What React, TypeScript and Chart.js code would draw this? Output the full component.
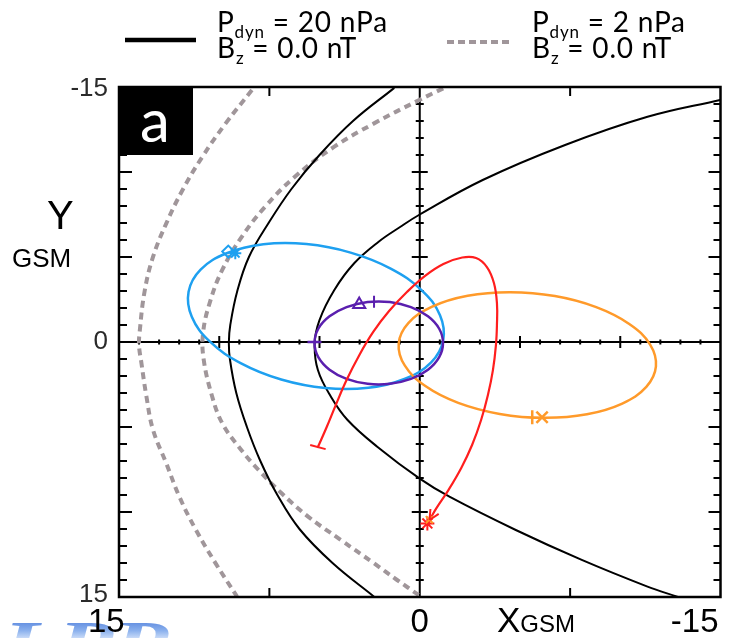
import React, { useEffect, useRef } from "react";
import { Chart, registerables } from "chart.js";

Chart.register(...registerables);

const W = 731;
const H = 638;

// Axis range (Earth radii), both axes run from -15 to 15
const axisMin = -15;
const axisMax = 15;
const xTickValues = [15, 0, -15];
const xTickLabels = ["15", "0", "-15"];
const yTickValues = [-15, 0, 15];
const yTickLabels = ["-15", "0", "15"];
const frameTicks = [7.5, -7.5];

// Legend entries
const legendPdyn = ["20", "2"];
const legendBz = ["0.0", "0.0"];

// Boundaries for Pdyn = 20 nPa (solid black) — [X, Y] in Re
const shock20: number[][] = [
  [1.3, -14.92], [3.33, -13.0], [5.0, -11.0], [6.4, -9.0], [7.54, -7.0],
  [8.52, -5.0], [9.1, -3.0], [9.45, -1.0], [9.52, 0.0], [9.47, 1.0],
  [9.15, 3.0], [8.62, 5.0], [7.95, 7.0], [7.1, 9.0], [6.0, 11.0],
  [4.35, 13.0], [2.28, 14.98],
];
const pause20: number[][] = [
  [-14.98, -14.24], [-11.36, -13.25], [-7.25, -11.59], [-3.14, -9.53], [0.0, -7.5],
  [1.0, -6.75], [2.05, -5.9], [3.27, -4.63], [4.26, -3.06], [5.0, -1.29],
  [5.24, 0.08], [5.08, 1.65], [4.43, 3.22], [3.6, 4.59], [2.12, 6.16],
  [0.0, 8.04], [-1.48, 9.1], [-4.79, 11.06], [-8.08, 12.82], [-11.36, 14.39],
  [-12.84, 14.98],
];

// Boundaries for Pdyn = 2 nPa (dashed grey)
const shock2: number[][] = [
  [8.37, -14.82], [9.68, -12.86], [10.84, -10.9], [11.83, -8.94], [12.64, -6.98],
  [13.3, -5.02], [13.72, -3.0], [13.96, -0.71], [14.0, 0.2], [13.88, 1.25],
  [13.63, 3.22], [13.3, 5.18], [12.64, 7.14], [11.99, 9.1], [11.16, 11.06],
  [10.18, 13.02], [9.11, 14.98],
];
const pause2: number[][] = [
  [-1.17, -14.92], [0.0, -14.25], [2.28, -12.86], [4.26, -11.49], [6.23, -9.72],
  [7.71, -7.96], [8.87, -6.2], [9.85, -4.24], [10.45, -2.4], [10.8, -0.6],
  [10.78, 1.0], [10.35, 3.22], [9.85, 4.78], [9.03, 6.16], [8.04, 7.53],
  [6.89, 8.9], [5.57, 10.27], [3.93, 11.65], [2.28, 13.02], [1.13, 14.0],
  [0.06, 14.88],
];

// Spacecraft orbits
const orbitBlue: number[][] = [
  [-1.17, -0.1], [-0.57, 1.2], [0.73, 2.16], [2.56, 2.69], [4.71, 2.71],
  [6.91, 2.21], [8.91, 1.26], [10.46, -0.02], [11.37, -1.49], [11.53, -2.96],
  [10.93, -4.26], [9.63, -5.22], [7.8, -5.75], [5.65, -5.76], [3.45, -5.26],
  [1.45, -4.32], [-0.1, -3.04], [-1.01, -1.57],
];
const orbitPurple: number[][] = [
  [-1.16, 0.06], [-0.97, 0.89], [-0.41, 1.63], [0.44, 2.17], [1.49, 2.46],
  [2.6, 2.46], [3.65, 2.17], [4.5, 1.63], [5.06, 0.89], [5.25, 0.06],
  [5.06, -0.78], [4.5, -1.51], [3.65, -2.05], [2.6, -2.35], [1.49, -2.35],
  [0.44, -2.05], [-0.41, -1.51], [-0.97, -0.78],
];
const orbitOrange: number[][] = [
  [-11.78, 1.44], [-11.3, 2.64], [-10.1, 3.62], [-8.34, 4.25], [-6.22, 4.46],
  [-3.99, 4.23], [-1.92, 3.58], [-0.28, 2.59], [0.75, 1.38], [1.05, 0.09],
  [0.57, -1.11], [-0.62, -2.08], [-2.39, -2.72], [-4.51, -2.93], [-6.74, -2.7],
  [-8.8, -2.05], [-10.45, -1.06], [-11.49, 0.15],
];
const orbitRed: number[][] = [
  [5.08, 6.18], [4.64, 5.0], [4.19, 3.71], [3.65, 2.24], [3.01, 0.76],
  [2.32, -0.59], [1.53, -1.82], [0.64, -2.94], [-0.25, -3.88], [-1.18, -4.59],
  [-2.12, -4.97], [-2.81, -4.94], [-3.35, -4.41], [-3.7, -3.47], [-3.85, -2.29],
  [-3.85, -1.0], [-3.8, 0.18], [-3.65, 1.65], [-3.4, 3.12], [-3.06, 4.59],
  [-2.61, 6.06], [-2.07, 7.41], [-1.43, 8.71], [-0.84, 9.76], [-0.49, 10.47],
];

// Position markers along the orbits
const blueDiamond: number[][] = [[9.55, -5.32]];
const blueStar: number[][] = [[9.2, -5.22]];
const purpleTriangle: number[][] = [[3.02, -2.2]];
const purpleBar: number[][] = [[2.28, -2.37]];
const purpleDash: number[][] = [[5.25, 0.0]];
const orangeBar: number[][] = [[-5.61, 4.43]];
const orangeCross: number[][] = [[-6.1, 4.43]];
const orangeSmall: number[][] = [[-0.48, 10.45]];
const redStar: number[][] = [[-0.38, 10.67]];
const redBar: number[][] = [[5.08, 6.18]];

const BLUE = "#1ea0f0";
const PURPLE = "#5a1fae";
const ORANGE = "#ff9a2a";
const RED = "#ff1e1e";
const GREY = "#a0969a";

const toPts = (a: number[][]) => a.map(([x, y]) => ({ x, y }));

const SANS = "'Liberation Sans', Arial, sans-serif";
const LEG = "Lato, 'Open Sans', sans-serif";

function curve(data: any[], color: string, width: number, order: number, dash: number[] = []) {
  return {
    data,
    showLine: true,
    borderColor: color,
    borderWidth: width,
    borderDash: dash,
    borderCapStyle: dash.length ? "butt" : "round",
    borderJoinStyle: "round",
    pointRadius: 0,
    tension: 0.4,
    fill: false,
    order,
  };
}

// A closed orbit: the loop is padded by one point on each side so every
// drawn piece has neighbours for the spline; the two padding pieces are hidden.
function loop(a: number[][], color: string, width: number, order: number) {
  const data = toPts([a[a.length - 1], ...a, a[0], a[1]]);
  const last = data.length - 2;
  return {
    ...curve(data, color, width, order),
    segment: {
      borderColor: (c: any) => (c.p0DataIndex === 0 || c.p0DataIndex === last ? "rgba(0,0,0,0)" : undefined),
    },
  };
}

function marker(data: number[][], style: string, color: string, radius: number, rotation = 0, width = 2) {
  return {
    data: toPts(data),
    showLine: false,
    pointStyle: style,
    pointRadius: radius,
    pointRotation: rotation,
    pointBorderColor: color,
    pointBackgroundColor: "rgba(0,0,0,0)",
    pointBorderWidth: width,
    order: 0,
  };
}

function subText(ctx: CanvasRenderingContext2D, x: number, y: number, parts: [string, boolean][], size: number, font: string) {
  let cx = x;
  for (const [t, sub] of parts) {
    ctx.font = `${sub ? Math.round(size * 0.62) : size}px ${font}`;
    ctx.fillText(t, cx, sub ? y + size * 0.2 : y);
    cx += ctx.measureText(t).width;
  }
}

const framePlugin = {
  id: "gsmFrame",
  beforeDatasetsDraw(chart: any) {
    const { ctx, chartArea: a, scales } = chart;
    const xs = scales.x;
    const ys = scales.y;
    const x0 = xs.getPixelForValue(0);
    const y0 = ys.getPixelForValue(0);
    ctx.save();
    ctx.strokeStyle = "#000";
    ctx.lineWidth = 2;
    ctx.beginPath();
    ctx.moveTo(a.left, y0);
    ctx.lineTo(a.right, y0);
    ctx.moveTo(x0, a.top);
    ctx.lineTo(x0, a.bottom);
    for (let v = axisMin + 1; v < axisMax; v++) {
      if (v === 0) continue;
      const major = v % 5 === 0;
      const px = xs.getPixelForValue(v);
      const h = major ? 6 : 2.5;
      ctx.moveTo(px, y0 - h);
      ctx.lineTo(px, y0 + h);
      const py = ys.getPixelForValue(v);
      const w = major ? 8 : 4;
      ctx.moveTo(x0 - w, py);
      ctx.lineTo(x0 + w, py);
      // inward ticks on left and right frame
      ctx.moveTo(a.left, py);
      ctx.lineTo(a.left + (major ? 13 : 8), py);
      ctx.moveTo(a.right, py);
      ctx.lineTo(a.right - (major ? 12 : 7), py);
    }
    for (const v of frameTicks) {
      const px = xs.getPixelForValue(v);
      ctx.moveTo(px, a.top);
      ctx.lineTo(px, a.top + 9);
      ctx.moveTo(px, a.bottom);
      ctx.lineTo(px, a.bottom - 9);
    }
    ctx.stroke();
    ctx.restore();
  },
  afterDatasetsDraw(chart: any) {
    const { ctx, chartArea: a } = chart;
    ctx.save();
    // arrow head at the end of the red track
    const redIdx = chart.data.datasets.findIndex((d: any) => d.label === "red");
    const pts = chart.getDatasetMeta(redIdx).data;
    const tip = pts[pts.length - 1];
    const prev = pts[pts.length - 2];
    const ang = Math.atan2(tip.y - prev.y, tip.x - prev.x);
    ctx.strokeStyle = RED;
    ctx.lineWidth = 2;
    ctx.beginPath();
    for (const s of [-1, 1]) {
      ctx.moveTo(tip.x, tip.y);
      ctx.lineTo(tip.x - 11 * Math.cos(ang + s * 0.45), tip.y - 11 * Math.sin(ang + s * 0.45));
    }
    ctx.stroke();

    // frame
    ctx.strokeStyle = "#000";
    ctx.lineWidth = 2.5;
    ctx.strokeRect(a.left, a.top, a.right - a.left, a.bottom - a.top);

    // panel label
    ctx.fillStyle = "#000";
    ctx.fillRect(a.left, a.top, 74, 68);
    ctx.fillStyle = "#fff";
    ctx.font = `60px ${LEG}`;
    ctx.textAlign = "center";
    ctx.textBaseline = "alphabetic";
    ctx.fillText("a", a.left + 36, a.top + 55);
    ctx.restore();
  },
  afterDraw(chart: any) {
    const { ctx, scales } = chart;
    const xs = scales.x;
    const ys = scales.y;
    ctx.save();
    ctx.fillStyle = "#000";

    // legend
    ctx.lineWidth = 4.5;
    ctx.strokeStyle = "#000";
    ctx.beginPath();
    ctx.moveTo(125, 40);
    ctx.lineTo(196, 40);
    ctx.stroke();
    ctx.strokeStyle = GREY;
    ctx.lineWidth = 4;
    ctx.setLineDash([7, 4]);
    ctx.beginPath();
    ctx.moveTo(447, 42);
    ctx.lineTo(513, 42);
    ctx.stroke();
    ctx.setLineDash([]);
    ctx.textAlign = "left";
    ctx.textBaseline = "alphabetic";
    (ctx as any).letterSpacing = "0.8px";
    const legX = [217, 532];
    legendPdyn.forEach((p, i) => {
      subText(ctx, legX[i], 32, [["P", false], ["dyn", true], [` = ${p} nPa`, false]], 28, LEG);
      subText(ctx, legX[i], 58, [["B", false], ["z", true], [` = ${legendBz[i]} nT`, false]], 28, LEG);
    });
    (ctx as any).letterSpacing = "0px";

    // y tick labels
    ctx.fillStyle = "#2a2a2a";
    ctx.font = `26px ${SANS}`;
    ctx.textAlign = "right";
    ctx.textBaseline = "middle";
    yTickValues.forEach((v, i) => {
      let py = ys.getPixelForValue(v);
      if (v === axisMin) py += 2;
      if (v === axisMax) py -= 2;
      ctx.fillText(yTickLabels[i], 108, py);
    });

    // y title
    ctx.fillStyle = "#000";
    ctx.textAlign = "left";
    ctx.textBaseline = "alphabetic";
    ctx.font = `40px ${SANS}`;
    ctx.fillText("Y", 47, 229);
    ctx.font = `26px ${SANS}`;
    ctx.fillText("GSM", 12, 267);

    // x tick labels
    ctx.font = `33px ${SANS}`;
    xTickValues.forEach((v, i) => {
      const px = xs.getPixelForValue(v);
      if (v === axisMax) {
        ctx.textAlign = "left";
        ctx.fillText(xTickLabels[i], px - 31, 632);
      } else if (v === axisMin) {
        ctx.textAlign = "right";
        ctx.fillText(xTickLabels[i], px - 2, 632);
      } else {
        ctx.textAlign = "center";
        ctx.fillText(xTickLabels[i], px, 632);
      }
    });
    ctx.textAlign = "left";
    ctx.font = `35px ${SANS}`;
    ctx.fillText("X", 497, 632);
    const xw = ctx.measureText("X").width;
    ctx.font = `24px ${SANS}`;
    ctx.fillText("GSM", 497 + xw, 632);

    // lab logo in the lower left corner, partly cut by the page edge
    ctx.save();
    ctx.globalCompositeOperation = "destination-over";
    ctx.scale(1.5, 1);
    const g = ctx.createLinearGradient(0, 615, 0, 660);
    g.addColorStop(0, "#2d63d2");
    g.addColorStop(0.35, "#7fa9ec");
    g.addColorStop(0.6, "#e8f0fd");
    g.addColorStop(1, "#a9c4f2");
    ctx.globalAlpha = 0.9;
    ctx.fillStyle = g;
    ctx.font = `italic bold 60px 'Liberation Serif', serif`;
    ctx.fillText("LPP", 2, 662);
    ctx.restore();
    ctx.restore();
  },
};

export default function App() {
  const ref = useRef<HTMLCanvasElement | null>(null);

  useEffect(() => {
    if (!ref.current) return;
    const datasets: any[] = [
      curve(toPts(shock2), GREY, 4, 10, [7, 5]),
      curve(toPts(pause2), GREY, 4, 10, [7, 5]),
      curve(toPts(shock20), "#000", 2, 9),
      curve(toPts(pause20), "#000", 2, 9),
      loop(orbitBlue, BLUE, 2.5, 6),
      loop(orbitOrange, ORANGE, 2.5, 5),
      loop(orbitPurple, PURPLE, 2.5, 4),
      { ...curve(toPts(orbitRed), RED, 2.2, 3), label: "red" },
      marker(blueDiamond, "rectRot", BLUE, 6),
      marker(blueStar, "star", BLUE, 6),
      marker(purpleTriangle, "triangle", PURPLE, 7),
      marker(purpleBar, "line", PURPLE, 6, 90),
      marker(purpleDash, "line", PURPLE, 7, 0, 2.5),
      marker(orangeBar, "line", ORANGE, 7, 90, 2.5),
      marker(orangeCross, "crossRot", ORANGE, 8, 0, 2.5),
      marker(orangeSmall, "crossRot", ORANGE, 5),
      marker(redStar, "star", RED, 7),
      marker(redBar, "line", RED, 8, 15),
    ];
    const chart = new Chart(ref.current, {
      type: "scatter",
      data: { datasets },
      options: {
        responsive: false,
        animation: false,
        devicePixelRatio: 1,
        events: [],
        layout: { padding: { left: 119, right: 4, top: 87, bottom: 41 } },
        plugins: { legend: { display: false }, tooltip: { enabled: false } },
        scales: {
          x: { type: "linear", min: axisMin, max: axisMax, reverse: true, display: false },
          y: { type: "linear", min: axisMin, max: axisMax, reverse: true, display: false },
        },
      } as any,
      plugins: [framePlugin as any],
    });
    return () => chart.destroy();
  }, []);

  return (
    <div style={{ position: "absolute", left: 0, top: 0, width: W, height: H, background: "#fff" }}>
      <canvas ref={ref} width={W} height={H} style={{ display: "block" }} />
    </div>
  );
}
